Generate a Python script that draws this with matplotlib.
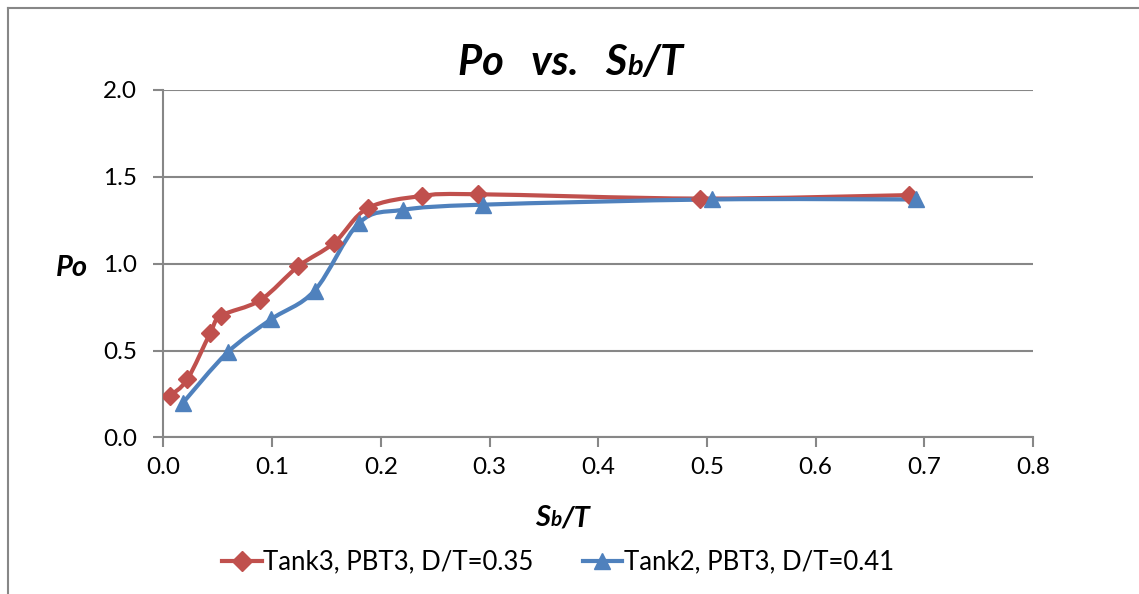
import numpy as np
import matplotlib
matplotlib.use('Agg')
import matplotlib.pyplot as plt
from matplotlib.path import Path
from matplotlib.patches import PathPatch
from matplotlib.lines import Line2D
from matplotlib import transforms

plt.rcParams['font.family'] = ['Lato', 'DejaVu Sans']

# Data
tank3_sb = [0.006, 0.022, 0.043, 0.053, 0.089, 0.124, 0.157, 0.188, 0.238, 0.289, 0.494, 0.686]
tank3_po = [0.24, 0.335, 0.60, 0.70, 0.79, 0.985, 1.12, 1.32, 1.39, 1.40, 1.375, 1.395]
tank2_sb = [0.018, 0.059, 0.099, 0.139, 0.180, 0.220, 0.294, 0.505, 0.692]
tank2_po = [0.20, 0.49, 0.68, 0.845, 1.235, 1.31, 1.34, 1.37, 1.37]

labels = ['Tank3, PBT3, D/T=0.35', 'Tank2, PBT3, D/T=0.41']
red = '#C0504D'
blue = '#4F81BD'
grid_col = '#878787'


def smooth_path(xs, ys):
    # Excel-style smoothed line: cubic Bezier through the points
    p = np.column_stack([xs, ys]).astype(float)
    pts = np.vstack([p[0], p, p[-1]])
    verts = [tuple(p[0])]
    codes = [Path.MOVETO]
    for i in range(1, len(pts) - 2):
        c1 = pts[i] + (pts[i + 1] - pts[i - 1]) / 6
        c2 = pts[i + 1] - (pts[i + 2] - pts[i]) / 6
        verts += [tuple(c1), tuple(c2), tuple(pts[i + 1])]
        codes += [Path.CURVE4] * 3
    return Path(verts, codes)


fig = plt.figure(figsize=(11.39, 5.94), dpi=100)
ax = fig.add_axes([0.1435, 0.2635, 0.7635, 0.585])

for xs, ys, c, m, ms in [(tank3_sb, tank3_po, red, 'D', 9), (tank2_sb, tank2_po, blue, '^', 11)]:
    ax.add_patch(PathPatch(smooth_path(xs, ys), fill=False, edgecolor=c, lw=3, zorder=3,
                           capstyle='round', joinstyle='round'))
    ax.plot(xs, ys, linestyle='none', marker=m, ms=ms, color=c, mec=c, zorder=4)

ax.set_xlim(0, 0.8)
ax.set_ylim(0, 2.0)
ax.set_xticks(np.arange(0, 0.81, 0.1))
ax.set_yticks(np.arange(0, 2.01, 0.5))
ax.xaxis.set_major_formatter(matplotlib.ticker.FormatStrFormatter('%.1f'))
ax.yaxis.set_major_formatter(matplotlib.ticker.FormatStrFormatter('%.1f'))
ax.tick_params(axis='both', direction='out', length=7, width=1.5, color=grid_col,
               labelsize=17.5, labelcolor='black')
ax.tick_params(axis='x', pad=7)
ax.tick_params(axis='y', pad=12)
ax.grid(axis='y', color=grid_col, lw=1.5)
ax.set_axisbelow(True)
for s in ['top', 'right']:
    ax.spines[s].set_visible(False)
for s in ['left', 'bottom']:
    ax.spines[s].set_color(grid_col)
    ax.spines[s].set_linewidth(1.5)

# chart border (left and top)
fig.add_artist(Line2D([8 / 1139, 8 / 1139], [0, 1 - 8 / 594], color=grid_col, lw=1.5))
fig.add_artist(Line2D([8 / 1139, 1], [1 - 8 / 594, 1 - 8 / 594], color=grid_col, lw=1.5))


def pieces(x, y, parts, ha_center=True):
    # draw text made of pieces of different sizes on one baseline
    fig.canvas.draw()
    r = fig.canvas.get_renderer()
    objs = []
    t = fig.transFigure
    for s, size in parts:
        txt = fig.text(x, y, s, fontsize=size, fontweight='bold', fontstyle='italic',
                       transform=t, va='baseline', ha='left')
        txt.draw(r)
        ex = txt.get_window_extent(r)
        t = transforms.offset_copy(txt.get_transform(), x=ex.width, units='dots')
        objs.append(txt)
    if ha_center:
        total = sum(o.get_window_extent(r).width for o in objs)
        dx = -total / 2
        for o in objs:
            o.set_transform(transforms.offset_copy(o.get_transform(), x=dx, units='dots'))


pieces(571 / 1139, 1 - 75 / 594, [('Po   vs.   S', 30), ('b', 21), ('/T', 30)])
pieces(563 / 1139, 1 - 526 / 594, [('S', 21), ('b', 15), ('/T', 21)])
fig.text(72 / 1139, 1 - 268 / 594, 'Po', fontsize=21, fontweight='bold', fontstyle='italic',
         ha='center', va='center')

handles = [Line2D([], [], color=red, lw=3, marker='D', ms=10),
           Line2D([], [], color=blue, lw=3, marker='^', ms=12)]
fig.legend(handles, labels, loc='center', bbox_to_anchor=(558 / 1139, 1 - 562 / 594), ncol=2,
           frameon=False, fontsize=18.5, handlelength=1.55, handletextpad=0.05, columnspacing=1.9)

fig.savefig('out.png', dpi=100)
